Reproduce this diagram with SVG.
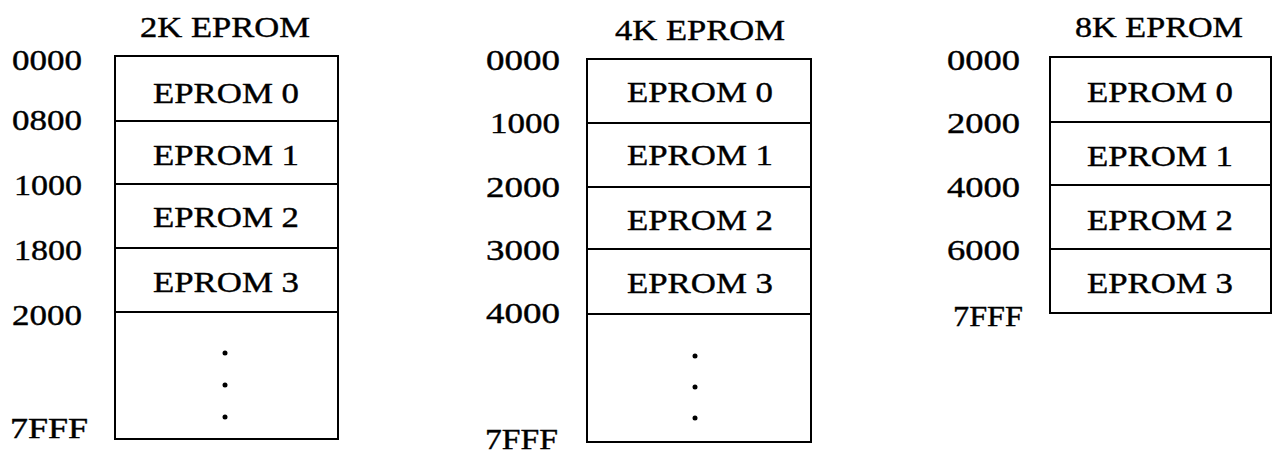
<svg xmlns="http://www.w3.org/2000/svg" width="1273" height="454" viewBox="0 0 1273 454">
<style>
text{font-family:"Liberation Serif","Times New Roman",serif;font-size:30px;fill:#000;stroke:#000;stroke-width:0.4}
.c{text-anchor:middle}
.box{fill:none;stroke:#000;stroke-width:2}
.ln{stroke:#000;stroke-width:2}
.dot{fill:#000}
</style>
<rect width="1273" height="454" fill="#fff"/>
<g id="map2k">
<text class="c" x="225" y="37" textLength="170" lengthAdjust="spacingAndGlyphs">2K EPROM</text>
<rect class="box" x="115" y="56" width="223" height="383"/>
<g class="ln"><line x1="115" y1="121" x2="338" y2="121"/><line x1="115" y1="184" x2="338" y2="184"/><line x1="115" y1="248" x2="338" y2="248"/><line x1="115" y1="312" x2="338" y2="312"/></g>
<text class="c" x="226" y="103" textLength="146" lengthAdjust="spacingAndGlyphs">EPROM 0</text>
<text class="c" x="226" y="165" textLength="146" lengthAdjust="spacingAndGlyphs">EPROM 1</text>
<text class="c" x="226" y="227" textLength="146" lengthAdjust="spacingAndGlyphs">EPROM 2</text>
<text class="c" x="226" y="292" textLength="146" lengthAdjust="spacingAndGlyphs">EPROM 3</text>
<circle class="dot" cx="225" cy="353" r="2.5"/><circle class="dot" cx="225" cy="385" r="2.5"/><circle class="dot" cx="225" cy="417" r="2.5"/>
<text x="12" y="70" textLength="70" lengthAdjust="spacingAndGlyphs">0000</text>
<text x="12" y="130" textLength="70" lengthAdjust="spacingAndGlyphs">0800</text>
<text x="14" y="195" textLength="68" lengthAdjust="spacingAndGlyphs">1000</text>
<text x="14" y="260" textLength="68" lengthAdjust="spacingAndGlyphs">1800</text>
<text x="12" y="325" textLength="70" lengthAdjust="spacingAndGlyphs">2000</text>
<text x="10" y="438" textLength="78" lengthAdjust="spacingAndGlyphs">7FFF</text>
</g>
<g id="map4k">
<text class="c" x="700" y="40" textLength="170" lengthAdjust="spacingAndGlyphs">4K EPROM</text>
<rect class="box" x="587" y="59" width="224" height="383"/>
<g class="ln"><line x1="587" y1="123" x2="811" y2="123"/><line x1="587" y1="187" x2="811" y2="187"/><line x1="587" y1="249" x2="811" y2="249"/><line x1="587" y1="314" x2="811" y2="314"/></g>
<text class="c" x="700" y="102" textLength="146" lengthAdjust="spacingAndGlyphs">EPROM 0</text>
<text class="c" x="700" y="165" textLength="146" lengthAdjust="spacingAndGlyphs">EPROM 1</text>
<text class="c" x="700" y="230" textLength="146" lengthAdjust="spacingAndGlyphs">EPROM 2</text>
<text class="c" x="700" y="293" textLength="146" lengthAdjust="spacingAndGlyphs">EPROM 3</text>
<circle class="dot" cx="695" cy="356" r="2.5"/><circle class="dot" cx="695" cy="387" r="2.5"/><circle class="dot" cx="695" cy="418" r="2.5"/>
<text x="486" y="70" textLength="74" lengthAdjust="spacingAndGlyphs">0000</text>
<text x="490" y="133" textLength="70" lengthAdjust="spacingAndGlyphs">1000</text>
<text x="486" y="197" textLength="74" lengthAdjust="spacingAndGlyphs">2000</text>
<text x="486" y="260" textLength="74" lengthAdjust="spacingAndGlyphs">3000</text>
<text x="486" y="323" textLength="74" lengthAdjust="spacingAndGlyphs">4000</text>
<text x="485" y="449" textLength="73" lengthAdjust="spacingAndGlyphs">7FFF</text>
</g>
<g id="map8k">
<text class="c" x="1159" y="37" textLength="168" lengthAdjust="spacingAndGlyphs">8K EPROM</text>
<rect class="box" x="1050" y="57" width="221" height="256"/>
<g class="ln"><line x1="1050" y1="122" x2="1271" y2="122"/><line x1="1050" y1="185" x2="1271" y2="185"/><line x1="1050" y1="249" x2="1271" y2="249"/></g>
<text class="c" x="1160" y="102" textLength="146" lengthAdjust="spacingAndGlyphs">EPROM 0</text>
<text class="c" x="1160" y="166" textLength="146" lengthAdjust="spacingAndGlyphs">EPROM 1</text>
<text class="c" x="1160" y="230" textLength="146" lengthAdjust="spacingAndGlyphs">EPROM 2</text>
<text class="c" x="1160" y="293" textLength="146" lengthAdjust="spacingAndGlyphs">EPROM 3</text>
<text x="947" y="70" textLength="73" lengthAdjust="spacingAndGlyphs">0000</text>
<text x="947" y="133" textLength="73" lengthAdjust="spacingAndGlyphs">2000</text>
<text x="947" y="197" textLength="73" lengthAdjust="spacingAndGlyphs">4000</text>
<text x="947" y="260" textLength="73" lengthAdjust="spacingAndGlyphs">6000</text>
<text x="953" y="326" textLength="70" lengthAdjust="spacingAndGlyphs">7FFF</text>
</g>
</svg>
